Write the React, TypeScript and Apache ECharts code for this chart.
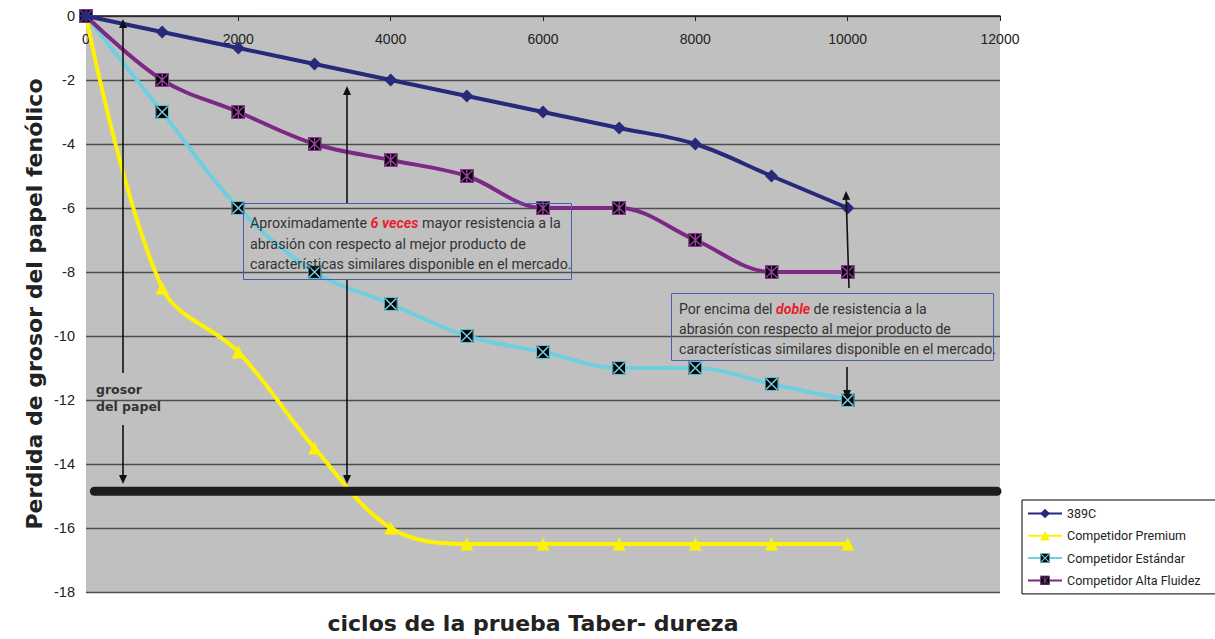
import React, { useEffect, useRef } from "react";
import * as echarts from "echarts";

const cycles = [0, 1000, 2000, 3000, 4000, 5000, 6000, 7000, 8000, 9000, 10000];
const s389C = [0, -0.5, -1, -1.5, -2, -2.5, -3, -3.5, -4, -5, -6];
const premium = [0, -8.5, -10.5, -13.5, -16, -16.5, -16.5, -16.5, -16.5, -16.5, -16.5];
const estandar = [0, -3, -6, -8, -9, -10, -10.5, -11, -11, -11.5, -12];
const altaFluidez = [0, -2, -3, -4, -4.5, -5, -6, -6, -7, -8, -8];
const seriesNames = ["389C", "Competidor Premium", "Competidor Estándar", "Competidor Alta Fluidez"];
const paperLine = [[110, -14.85], [11960, -14.85]];

const NAVY = "#27297A";
const YELLOW = "#FFF200";
const CYAN = "#6DCFE0";
const PURPLE = "#7E2886";

function svgSym(svg: string) {
  return "image://data:image/svg+xml;charset=utf-8," + encodeURIComponent(svg);
}
const cyanSym = svgSym(
  `<svg xmlns='http://www.w3.org/2000/svg' width='14' height='14' viewBox='0 0 14 14'><rect x='0' y='0' width='14' height='14' fill='#000'/><path d='M1.5 1.5L12.5 12.5M12.5 1.5L1.5 12.5' stroke='${CYAN}' stroke-width='1.6'/><rect x='0.6' y='0.6' width='12.8' height='12.8' fill='none' stroke='${CYAN}' stroke-width='1'/></svg>`
);
const purpleSym = svgSym(
  `<svg xmlns='http://www.w3.org/2000/svg' width='14' height='14' viewBox='0 0 14 14'><rect x='0' y='0' width='14' height='14' fill='#000'/><path d='M1.5 1.5L12.5 12.5M12.5 1.5L1.5 12.5M7 1L7 13' stroke='#9B3FA6' stroke-width='1.4'/><rect x='0.6' y='0.6' width='12.8' height='12.8' fill='none' stroke='#9B3FA6' stroke-width='1'/></svg>`
);

function pairs(ys: number[]) {
  return cycles.map((c, i) => [c, ys[i]]);
}

function arrow(x1: number, y1: number, x2: number, y2: number) {
  const dx = x2 - x1, dy = y2 - y1;
  const len = Math.sqrt(dx * dx + dy * dy);
  const ux = dx / len, uy = dy / len;
  const hl = 9, hw = 4;
  const bx = x2 - ux * hl, by = y2 - uy * hl;
  return [
    { type: "line", shape: { x1, y1, x2: bx, y2: by }, style: { stroke: "#111", lineWidth: 1.6 }, z: 100 },
    {
      type: "polygon",
      shape: { points: [[x2, y2], [bx - uy * hw, by + ux * hw], [bx + uy * hw, by - ux * hw]] },
      style: { fill: "#111" },
      z: 100,
    },
  ];
}

const noteFont = "Roboto, 'Noto Sans', sans-serif";
const titleFont = "bold 22px 'DejaVu Sans', sans-serif";

export default function App() {
  const ref = useRef<HTMLDivElement>(null);
  useEffect(() => {
    document.body.style.margin = "0";
    const chart = echarts.init(ref.current!, null, { renderer: "svg" });
    const lineCommon = { smooth: 0.35, symbolSize: 12, lineStyle: { width: 4 } };
    chart.setOption({
      animation: false,
      backgroundColor: "#fff",
      grid: { left: 86, top: 16, width: 914, height: 576, show: true, backgroundColor: "#C0C0C0", borderWidth: 0 },
      xAxis: {
        type: "value",
        position: "top",
        min: 0,
        max: 12000,
        interval: 2000,
        axisLine: { lineStyle: { color: "#222", width: 1.5 } },
        axisTick: { show: true, inside: true, length: 5, lineStyle: { color: "#222" } },
        axisLabel: {
          inside: true,
          margin: 16,
          fontSize: 14,
          color: "#222",
          fontFamily: "'Liberation Sans', Arial, sans-serif",
          formatter: (v: number) => String(v),
        },
        splitLine: { show: false },
      },
      yAxis: {
        type: "value",
        min: -18,
        max: 0,
        interval: 2,
        axisLine: { show: false },
        axisTick: { show: false },
        axisLabel: { margin: 11, fontSize: 14.5, color: "#222", fontFamily: "'Liberation Sans', Arial, sans-serif" },
        splitLine: { lineStyle: { color: "#4d4d4d", width: 1.3 } },
      },
      legend: {
        orient: "vertical",
        left: 1022,
        top: 500,
        data: seriesNames,
        backgroundColor: "#fff",
        borderColor: "#000",
        borderWidth: 1,
        borderRadius: 0,
        padding: [7, 30, 7, 5],
        itemWidth: 34,
        itemHeight: 12,
        itemGap: 9.3,
        textStyle: { fontFamily: noteFont, fontSize: 12.5, color: "#222" },
      },
      series: [
        {
          ...lineCommon,
          name: "389C",
          type: "line",
          data: pairs(s389C),
          symbol: "diamond",
          symbolSize: 13,
          color: NAVY,
          z: 5,
        },
        {
          ...lineCommon,
          name: "Competidor Premium",
          type: "line",
          data: pairs(premium),
          symbol: "triangle",
          symbolSize: 13,
          color: YELLOW,
          z: 2,
        },
        {
          ...lineCommon,
          name: "Competidor Estándar",
          type: "line",
          data: pairs(estandar),
          symbol: cyanSym,
          symbolSize: 14,
          color: CYAN,
          z: 3,
        },
        {
          ...lineCommon,
          name: "Competidor Alta Fluidez",
          type: "line",
          data: pairs(altaFluidez),
          symbol: purpleSym,
          symbolSize: 14,
          color: PURPLE,
          z: 4,
        },
        {
          name: "grosor",
          type: "line",
          data: paperLine,
          symbol: "none",
          lineStyle: { width: 9, color: "#1c1c1c", cap: "round" },
          z: 6,
          silent: true,
        },
      ],
      graphic: [
        ...arrow(123, 373, 123, 19),
        ...arrow(123, 425, 123, 484),
        ...arrow(347, 203, 347, 86),
        ...arrow(347, 280, 347, 484),
        ...arrow(849, 288, 846, 191),
        ...arrow(847, 367, 847, 399),
        {
          type: "text",
          x: 96,
          y: 381,
          z: 100,
          style: {
            text: "grosor\ndel papel",
            font: "bold 12.5px 'DejaVu Sans', sans-serif",
            lineHeight: 17,
            fill: "#333",
          },
        },
        {
          type: "rect",
          z: 100,
          shape: { x: 243.5, y: 203.5, width: 328, height: 76 },
          style: { fill: "none", stroke: "#4A5DB5", lineWidth: 1 },
        },
        {
          type: "text",
          x: 250,
          y: 213,
          z: 100,
          style: {
            text:
              "Aproximadamente {r|6 veces} mayor resistencia a la\nabrasión con respecto al mejor producto de\ncaracterísticas similares disponible en el mercado.",
            fontFamily: noteFont,
            fontSize: 14.3,
            lineHeight: 20.5,
            fill: "#333",
            rich: {
              r: { fontFamily: noteFont, fontSize: 14.3, fontWeight: "bold", fontStyle: "italic", fill: "#E8202A", lineHeight: 20.5 },
            },
          },
        },
        {
          type: "rect",
          z: 100,
          shape: { x: 671.5, y: 293.5, width: 322, height: 67 },
          style: { fill: "none", stroke: "#4A5DB5", lineWidth: 1 },
        },
        {
          type: "text",
          x: 679,
          y: 299,
          z: 100,
          style: {
            text:
              "Por encima del {r|doble} de resistencia a la\nabrasión con respecto al mejor producto de\ncaracterísticas similares disponible en el mercado.",
            fontFamily: noteFont,
            fontSize: 14.1,
            lineHeight: 20,
            fill: "#333",
            rich: {
              r: { fontFamily: noteFont, fontSize: 14.1, fontWeight: "bold", fontStyle: "italic", fill: "#E8202A", lineHeight: 20 },
            },
          },
        },
        {
          type: "text",
          x: 34,
          y: 304,
          rotation: Math.PI / 2,
          style: {
            text: "Perdida de grosor del papel fenólico",
            font: titleFont,
            fill: "#222",
            align: "center",
            verticalAlign: "middle",
          },
        },
        {
          type: "text",
          x: 533,
          y: 623,
          style: {
            text: "ciclos de la prueba Taber- dureza",
            font: titleFont,
            fill: "#222",
            align: "center",
            verticalAlign: "middle",
          },
        },
      ],
    });
    return () => chart.dispose();
  }, []);
  return <div ref={ref} style={{ width: 1215, height: 639 }} />;
}
